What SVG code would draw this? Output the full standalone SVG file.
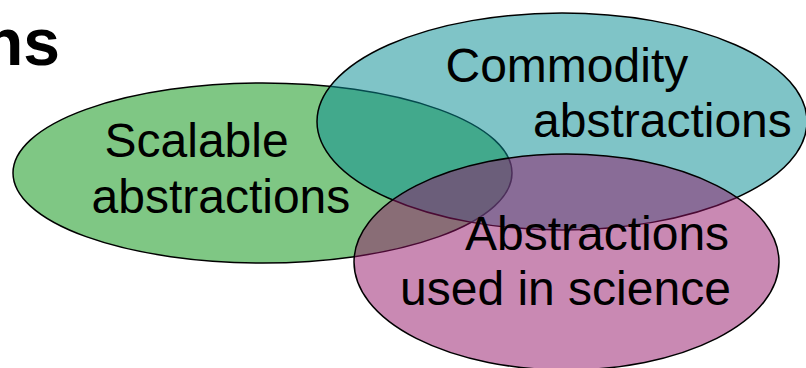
<svg xmlns="http://www.w3.org/2000/svg" width="806" height="368" viewBox="0 0 806 368">
<style>
.e{stroke:#000;stroke-width:1.5}
.t{font-family:"Liberation Sans",Arial,sans-serif;font-size:48px;fill:#000}
.h{font-family:"Liberation Sans",Arial,sans-serif;font-size:66px;font-weight:bold;fill:#000}
</style>
<rect width="806" height="368" fill="#fff"/>
<text class="h" x="60" y="65" text-anchor="end">ns</text>
<g id="scalable">
<ellipse class="e" cx="262.5" cy="173" rx="249.5" ry="90" fill="#7fc784"/>
<text class="t"><tspan x="104.5" y="157">Scalable</tspan><tspan x="91.5" y="213">abstractions</tspan></text>
</g>
<g id="commodity">
<ellipse class="e" cx="562" cy="121.5" rx="245" ry="108.5" fill="#098e93" fill-opacity="0.52"/>
<text class="t"><tspan x="445.5" y="82">Commodity</tspan><tspan x="533" y="137">abstractions</tspan></text>
</g>
<g id="science">
<ellipse class="e" cx="566.5" cy="262" rx="212.5" ry="108" fill="#931367" fill-opacity="0.5"/>
<text class="t"><tspan x="465" y="250">Abstractions</tspan><tspan x="400" y="305">used in science</tspan></text>
</g>
<g id="connectors"/>
</svg>
